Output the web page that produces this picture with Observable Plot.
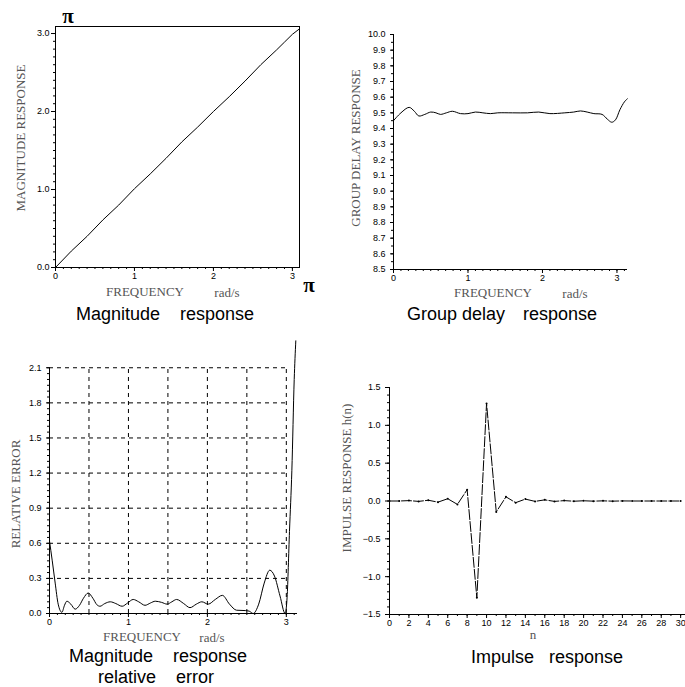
<!DOCTYPE html>
<html><head><meta charset="utf-8">
<script src="https://cdn.jsdelivr.net/npm/d3@7"></script>
<script src="https://cdn.jsdelivr.net/npm/@observablehq/plot@0.6"></script>
<style>
html,body{margin:0;padding:0;background:#fff;}
#root{position:relative;width:685px;height:687px;overflow:hidden;background:#fff;}
.lab{position:absolute;white-space:nowrap;transform:translate(-50%,-50%);line-height:1;}
.ax{font-family:"Liberation Serif","Times New Roman",serif;font-size:13px;color:#555;}
.title{font-family:"Liberation Sans",Arial,sans-serif;font-size:18px;color:#000;}
.gap{display:inline-block;}
.pi{font-family:"Liberation Serif",serif;font-size:21px;font-weight:bold;color:#000;}
</style></head><body><div id="root"></div>
<script>
// ---- Panel 1: magnitude response ----
const magW = [0, 0.2, 0.4, 0.6, 0.8, 1.0, 1.2, 1.4, 1.6, 1.8, 2.0, 2.2, 2.4, 2.6, 2.8, 2.9, 3.0, 3.09];
const magV = [0, 0.21, 0.40, 0.61, 0.80, 1.01, 1.20, 1.40, 1.61, 1.80, 2.00, 2.19, 2.39, 2.60, 2.79, 2.89, 2.99, 3.06];
const magXTicks = [0, 1, 2, 3];
const magYTicks = [0, 1, 2, 3];

// ---- Panel 2: group delay ----
const gdW = [0, 0.1, 0.21, 0.28, 0.34, 0.42, 0.5, 0.57, 0.63, 0.71, 0.79, 0.9, 1.0, 1.1, 1.2, 1.3, 1.4, 1.6, 1.8, 1.95, 2.1, 2.3, 2.42, 2.51, 2.6, 2.69, 2.8, 2.87, 2.93, 2.98, 3.04, 3.1, 3.14];
const gdV = [9.45, 9.50, 9.535, 9.51, 9.48, 9.49, 9.505, 9.50, 9.49, 9.50, 9.51, 9.495, 9.495, 9.505, 9.50, 9.495, 9.50, 9.50, 9.50, 9.505, 9.495, 9.50, 9.505, 9.512, 9.505, 9.495, 9.49, 9.46, 9.44, 9.455, 9.52, 9.57, 9.59];
const gdXTicks = [0, 1, 2, 3];
const gdYTicks = [8.5, 8.6, 8.7, 8.8, 8.9, 9.0, 9.1, 9.2, 9.3, 9.4, 9.5, 9.6, 9.7, 9.8, 9.9, 10.0];

// ---- Panel 3: relative error ----
const errW = [0, 0.035, 0.072, 0.11, 0.157, 0.19, 0.22, 0.27, 0.325, 0.38, 0.43, 0.49, 0.55, 0.6, 0.64, 0.7, 0.77, 0.84, 0.92, 0.99, 1.06, 1.13, 1.21, 1.28, 1.34, 1.42, 1.49, 1.55, 1.61, 1.7, 1.78, 1.86, 1.93, 2.01, 2.1, 2.19, 2.28, 2.37, 2.48, 2.53, 2.58, 2.65, 2.72, 2.79, 2.85, 2.92, 2.985, 3.01, 3.04, 3.07, 3.1, 3.12];
const errV = [0.62, 0.45, 0.26, 0.08, 0.01, 0.07, 0.105, 0.08, 0.037, 0.07, 0.13, 0.175, 0.13, 0.075, 0.062, 0.085, 0.10, 0.085, 0.062, 0.09, 0.12, 0.10, 0.07, 0.09, 0.105, 0.095, 0.08, 0.10, 0.12, 0.085, 0.05, 0.08, 0.10, 0.08, 0.12, 0.155, 0.08, 0.028, 0.025, 0.02, 0.0, 0.08, 0.26, 0.37, 0.32, 0.15, 0.0, 0.14, 0.70, 1.22, 2.0, 2.33];
const errXTicks = [0, 1, 2, 3];
const errYTicks = [0, 0.3, 0.6, 0.9, 1.2, 1.5, 1.8, 2.1];
const errGridX = [0.5, 1.0, 1.5, 2.0, 2.5, 3.0];
const errGridY = [0.3, 0.6, 0.9, 1.2, 1.5, 1.8, 2.1];

// ---- Panel 4: impulse response ----
const hN = [0,1,2,3,4,5,6,7,8,9,10,11,12,13,14,15,16,17,18,19,20,21,22,23,24,25,26,27,28,29,30];
const hV = [0, 0, 0.005, -0.005, 0.01, -0.015, 0.03, -0.045, 0.15, -1.28, 1.29, -0.145, 0.055, -0.022, 0.025, -0.005, 0.015, -0.005, 0.005, -0.003, 0.003, -0.002, 0.002, -0.002, 0.001, 0, 0, 0, 0, 0, 0];
const hXTicks = [0,2,4,6,8,10,12,14,16,18,20,22,24,26,28,30];
const hYTicks = [-1.5, -1.0, -0.5, 0, 0.5, 1.0, 1.5];

const root = document.getElementById("root");
const baseStyle = {fontFamily: "Liberation Sans, Arial, sans-serif", fontSize: "9px", color: "#000", background: "transparent", overflow: "visible"};

function place(svg, left, top) {
  svg.style.position = "absolute";
  svg.style.left = left + "px";
  svg.style.top = top + "px";
  root.appendChild(svg);
}
function label(html, x, y, cls, rot) {
  const d = document.createElement("div");
  d.className = "lab " + cls;
  d.innerHTML = html;
  d.style.left = x + "px";
  d.style.top = y + "px";
  if (rot) d.style.transform = "translate(-50%,-50%) rotate(-90deg)";
  root.appendChild(d);
}
const gap = w => `<span class="gap" style="width:${w}px"></span>`;
const blank = () => "";
const fmt1 = d => d < 0 ? "\u2212" + Math.abs(d).toFixed(1) : d.toFixed(1);

// Panel 1
place(Plot.plot({
  width: 340, height: 330, marginLeft: 55, marginRight: 41, marginTop: 26, marginBottom: 63,
  style: baseStyle,
  x: {domain: [0, 3.09]}, y: {domain: [0, 3.09]},
  marks: [
    Plot.axisX({ticks: d3.range(0, 3.09, 0.1), tickSize: 2, tickFormat: blank, label: null}),
    Plot.axisX({ticks: magXTicks, tickSize: 4, tickPadding: 1, tickFormat: d => String(d), label: null}),
    Plot.axisY({ticks: d3.range(0, 3.09, 0.1), tickSize: 2, tickFormat: blank, label: null}),
    Plot.axisY({ticks: magYTicks, tickSize: 4, tickPadding: 2, tickFormat: fmt1, label: null}),
    Plot.frame({stroke: "#000"}),
    Plot.line(magW.map((w, i) => ({w, v: magV[i]})), {x: "w", y: "v", stroke: "#000", strokeWidth: 1})
  ]
}), 0, 0);

// Panel 2
place(Plot.plot({
  width: 345, height: 330, marginLeft: 53, marginRight: 58, marginTop: 34, marginBottom: 61,
  style: baseStyle,
  x: {domain: [0, Math.PI]}, y: {domain: [8.5, 10.0]},
  marks: [
    Plot.axisX({ticks: d3.range(0, 3.15, 0.1), tickSize: 2, tickFormat: blank, label: null}),
    Plot.axisX({ticks: gdXTicks, tickSize: 4, tickPadding: 1, tickFormat: d => String(d), label: null}),
    Plot.axisY({ticks: d3.range(8.5, 10.001, 0.05), tickSize: 2, tickFormat: blank, label: null}),
    Plot.axisY({ticks: gdYTicks, tickSize: 3, tickPadding: 5, tickFormat: d => d.toFixed(1), label: null}),
    Plot.ruleX([0], {stroke: "#000"}),
    Plot.ruleY([8.5], {stroke: "#000"}),
    Plot.line(gdW.map((w, i) => ({w, v: gdV[i]})), {x: "w", y: "v", stroke: "#000", strokeWidth: 1, curve: "catmull-rom"})
  ]
}), 340, 0);

// Panel 3
place(Plot.plot({
  width: 340, height: 357, marginLeft: 49, marginRight: 43, marginTop: 8, marginBottom: 74,
  style: baseStyle,
  x: {domain: [0, Math.PI]}, y: {domain: [0, 2.35]},
  marks: [
    Plot.ruleY(errGridY, {x1: 0, x2: 3.0, stroke: "#000", strokeWidth: 1, strokeDasharray: "4,4"}),
    Plot.ruleX(errGridX, {y1: 0, y2: 2.1, stroke: "#000", strokeWidth: 1, strokeDasharray: "4,4"}),
    Plot.axisX({ticks: d3.range(0, 3.15, 0.1), tickSize: 2, tickFormat: blank, label: null}),
    Plot.axisX({ticks: errXTicks, tickSize: 4, tickPadding: 1, tickFormat: d => String(d), label: null}),
    Plot.axisY({ticks: d3.range(0, 2.101, 0.05), tickSize: 2, tickFormat: blank, label: null}),
    Plot.axisY({ticks: errYTicks, tickSize: 3, tickPadding: 5, tickFormat: d => d.toFixed(1), label: null}),
    Plot.ruleX([0], {y1: 0, y2: 2.1, stroke: "#000"}),
    Plot.ruleY([0], {stroke: "#000"}),
    Plot.line(errW.map((w, i) => ({w, v: errV[i]})), {x: "w", y: "v", stroke: "#000", strokeWidth: 1, curve: "monotone-x"})
  ]
}), 0, 330);

// Panel 4
place(Plot.plot({
  width: 345, height: 317, marginLeft: 49, marginRight: 0, marginTop: 17, marginBottom: 73,
  style: baseStyle,
  x: {domain: [0, 30.5]}, y: {domain: [-1.5, 1.5]},
  marks: [
    Plot.axisX({ticks: d3.range(0, 31, 1), tickSize: 2, tickFormat: blank, label: null}),
    Plot.axisX({ticks: hXTicks, tickSize: 4, tickPadding: 1, tickFormat: d => String(d), label: null}),
    Plot.axisY({ticks: d3.range(-1.5, 1.501, 0.1), tickSize: 2, tickFormat: blank, label: null}),
    Plot.axisY({ticks: hYTicks, tickSize: 4, tickPadding: 5, tickFormat: fmt1, label: null}),
    Plot.ruleX([0], {stroke: "#000"}),
    Plot.ruleY([-1.5], {stroke: "#000"}),
    Plot.line(hN.map((n, i) => ({n, v: hV[i]})), {x: "n", y: "v", stroke: "#000", strokeWidth: 1, strokeDasharray: "10,2"}),
    Plot.dot(hN.map((n, i) => ({n, v: hV[i]})), {x: "n", y: "v", r: 1, fill: "#000", stroke: null})
  ]
}), 340, 370);

// Text labels
label("&pi;", 68, 16, "pi");
label("&pi;", 309, 285, "pi");
label("MAGNITUDE RESPONSE", 20, 138, "ax", true);
label("FREQUENCY", 145, 291, "ax");
label("rad/s", 227, 292, "ax");
label("Magnitude" + gap(15) + " response", 165, 314, "title");

label("GROUP DELAY RESPONSE", 355, 148, "ax", true);
label("FREQUENCY", 493, 292, "ax");
label("rad/s", 575, 293, "ax");
label("Group delay" + gap(13) + " response", 502, 314, "title");

label("RELATIVE ERROR", 15, 494, "ax", true);
label("FREQUENCY", 142, 636, "ax");
label("rad/s", 212, 637, "ax");
label("Magnitude" + gap(15) + " response", 158, 656, "title");
label("relative" + gap(15) + " error", 156, 677, "title");

label("IMPULSE RESPONSE h(n)", 346, 478, "ax", true);
label("n", 533, 634, "ax");
label("Impulse" + gap(10) + " response", 547, 657, "title");
</script></body></html>
